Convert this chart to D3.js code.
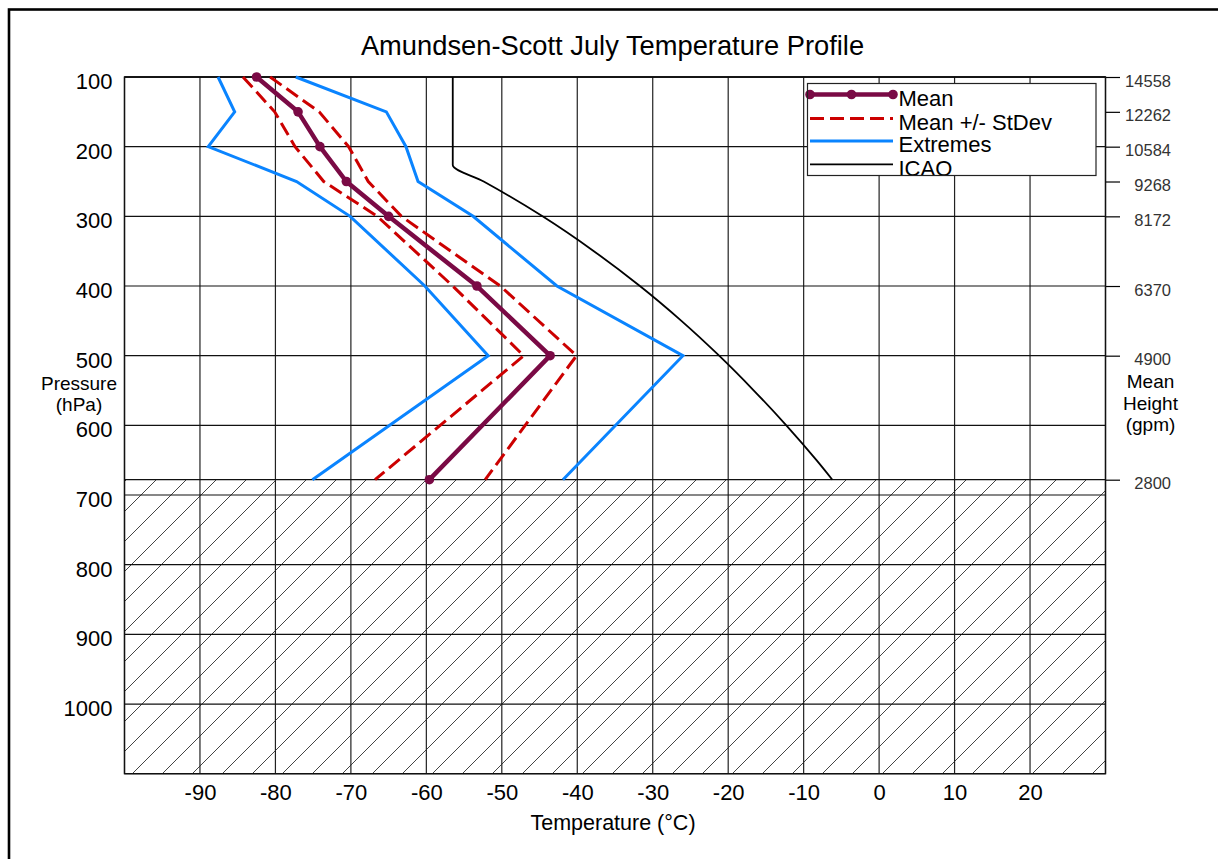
<!DOCTYPE html>
<html>
<head>
<meta charset="utf-8">
<script src="https://cdn.jsdelivr.net/npm/d3@7"></script>
<style>
  html, body { margin: 0; padding: 0; background: #fff; }
  svg { display: block; font-family: "Liberation Sans", Arial, sans-serif; }
</style>
</head>
<body>
<svg id="chart" width="1218" height="859"></svg>
<script>
// ---- data ----
const levels = [100, 150, 200, 250, 300, 400, 500, 678];
const meanT   = [-82.5, -77.0, -74.1, -70.6, -65.0, -53.3, -43.6, -59.6];
const meanLow = [-84.3, -80.1, -77.4, -73.6, -66.5, -56.5, -47.1, -66.8];
const meanHigh= [-80.7, -74.2, -70.3, -67.7, -63.3, -50.2, -40.1, -52.2];
const extMin  = [-87.6, -85.4, -88.9, -77.2, -70.1, -60.2, -51.8, -75.1];
const extMax  = [-77.3, -65.3, -62.7, -61.1, -53.8, -42.7, -26.0, -41.9];
const icaoP   = [100, 150, 200, 226.3, 250, 300, 350, 400, 450, 500, 550, 600, 650, 678];
const icaoT   = [-56.5, -56.5, -56.5, -56.5, -52.4, -44.6, -37.8, -31.7, -26.2, -21.2, -16.6, -12.3, -8.3, -6.2];
const surfaceP = 678;
const pressureTicks = [100, 200, 300, 400, 500, 600, 700, 800, 900, 1000];
const tempTicks = [-90, -80, -70, -60, -50, -40, -30, -20, -10, 0, 10, 20];
const tempGrid = [-100, -90, -80, -70, -60, -50, -40, -30, -20, -10, 0, 10, 20, 30];
const heightP = [100, 150, 200, 250, 300, 400, 500, 678];
const heightLabels = ["14558", "12262", "10584", "9268", "8172", "6370", "4900", "2800"];
const legendItems = ["Mean", "Mean +/- StDev", "Extremes", "ICAO"];

// ---- layout ----
const svg = d3.select("#chart");
const L = 124.5, R = 1105.5, T = 77, B = 773.7;
const x = d3.scaleLinear().domain([-100, 30]).range([L, R]);
const y = d3.scaleLinear().domain([100, 1100]).range([T, B]);

const COL_MEAN = "#7a0a45", COL_SD = "#cc0000", COL_EXT = "#0a84ff", COL_ICAO = "#000";
const FONT = "Liberation Sans, Arial, sans-serif";

// outer border
svg.append("rect").attr("x", 9).attr("y", 9.5).attr("width", 1400).attr("height", 1000)
  .attr("fill", "none").attr("stroke", "#000").attr("stroke-width", 2.6);

// hatch pattern
const defs = svg.append("defs");
const pat = defs.append("pattern").attr("id", "hatch").attr("patternUnits", "userSpaceOnUse")
  .attr("x", 6).attr("y", 0).attr("width", 30).attr("height", 30);
pat.append("path").attr("d", "M0,30 L30,0 M-3,3 L3,-3 M27,33 L33,27")
  .attr("stroke", "#444").attr("stroke-width", 1).attr("fill", "none");

// title
svg.append("text").attr("x", 612.5).attr("y", 55).attr("text-anchor", "middle")
  .attr("font-size", 27.3).attr("fill", "#000").text("Amundsen-Scott July Temperature Profile");

// hatched ground area
svg.append("rect").attr("x", L).attr("y", y(surfaceP)).attr("width", R - L).attr("height", B - y(surfaceP))
  .attr("fill", "url(#hatch)");

// grid
const grid = svg.append("g");
grid.selectAll("line.v").data(tempGrid).join("line")
  .attr("x1", d => x(d)).attr("x2", d => x(d)).attr("y1", T).attr("y2", B)
  .attr("stroke", "#222").attr("stroke-width", 1.2);
grid.selectAll("line.h").data(pressureTicks.concat([1100])).join("line")
  .attr("x1", L).attr("x2", R).attr("y1", d => y(d)).attr("y2", d => y(d))
  .attr("stroke", "#111").attr("stroke-width", 1.2);
grid.append("line").attr("x1", L).attr("x2", R).attr("y1", y(surfaceP)).attr("y2", y(surfaceP))
  .attr("stroke", "#111").attr("stroke-width", 1.2);
grid.append("line").attr("x1", L).attr("x2", R).attr("y1", T).attr("y2", T)
  .attr("stroke", "#000").attr("stroke-width", 1.4);

// axes
const leftAxis = svg.append("g").attr("transform", `translate(${L},0)`)
  .call(d3.axisLeft(y).tickValues(pressureTicks).tickSize(0).tickPadding(12).tickFormat(d => String(d)));
leftAxis.select(".domain").remove();
leftAxis.selectAll("text").attr("font-size", 22).attr("fill", "#000").attr("dy", "0.52em")
  .attr("font-family", FONT);

const bottomAxis = svg.append("g").attr("transform", `translate(0,${B})`)
  .call(d3.axisBottom(x).tickValues(tempTicks).tickSize(0).tickPadding(0).tickFormat(d => String(d)));
bottomAxis.select(".domain").remove();
bottomAxis.selectAll("text").attr("font-size", 22).attr("fill", "#000").attr("y", 26.5).attr("dy", "0")
  .attr("font-family", FONT);

const rightAxis = svg.append("g").attr("transform", `translate(${R},0)`)
  .call(d3.axisRight(y).tickValues(heightP).tickSize(14.5).tickFormat((d, i) => heightLabels[i]));
rightAxis.select(".domain").remove();
rightAxis.selectAll("line").attr("stroke", "#000").attr("stroke-width", 1.2);
rightAxis.selectAll("text").attr("font-size", 16.5).attr("fill", "#333").attr("text-anchor", "end")
  .attr("x", 65.5).attr("dy", "0.55em").attr("font-family", FONT);

// axis titles
const pl = svg.append("text").attr("text-anchor", "middle").attr("font-size", 19).attr("fill", "#000");
pl.append("tspan").attr("x", 79).attr("y", 389.5).text("Pressure");
pl.append("tspan").attr("x", 79).attr("y", 411).text("(hPa)");
const hl = svg.append("text").attr("text-anchor", "middle").attr("font-size", 19).attr("fill", "#000");
hl.append("tspan").attr("x", 1150.5).attr("y", 388).text("Mean");
hl.append("tspan").attr("x", 1150.5).attr("y", 409.5).text("Height");
hl.append("tspan").attr("x", 1150.5).attr("y", 431).text("(gpm)");
svg.append("text").attr("x", 613).attr("y", 830).attr("text-anchor", "middle")
  .attr("font-size", 21.5).attr("fill", "#000").text("Temperature (\u00B0C)");

// plot frame
svg.append("rect").attr("x", L).attr("y", T).attr("width", R - L).attr("height", B - T)
  .attr("fill", "none").attr("stroke", "#111").attr("stroke-width", 1.4);

// series
const line = d3.line().x(d => x(d[0])).y(d => y(d[1]));
const zip = (t, p) => t.map((v, i) => [v, p[i]]);

svg.append("path").datum(zip(icaoT, icaoP))
  .attr("d", line.curve(d3.curveMonotoneY)).attr("fill", "none")
  .attr("stroke", COL_ICAO).attr("stroke-width", 1.8);
line.curve(d3.curveLinear);

[extMin, extMax].forEach(s => {
  svg.append("path").datum(zip(s, levels)).attr("d", line).attr("fill", "none")
    .attr("stroke", COL_EXT).attr("stroke-width", 3);
});
[meanLow, meanHigh].forEach(s => {
  svg.append("path").datum(zip(s, levels)).attr("d", line).attr("fill", "none")
    .attr("stroke", COL_SD).attr("stroke-width", 3).attr("stroke-dasharray", "14,6");
});
svg.append("path").datum(zip(meanT, levels)).attr("d", line).attr("fill", "none")
  .attr("stroke", COL_MEAN).attr("stroke-width", 4.5).attr("stroke-linejoin", "round");
svg.selectAll("circle.m").data(zip(meanT, levels)).join("circle")
  .attr("cx", d => x(d[0])).attr("cy", d => y(d[1])).attr("r", 4.8).attr("fill", COL_MEAN);

// legend
const lg = svg.append("g");
const LX = 807.5, LY = 83.5, LW = 288.5, LH = 92;
defs.append("clipPath").attr("id", "legclip").append("rect")
  .attr("x", LX).attr("y", LY).attr("width", LW).attr("height", LH);
lg.append("rect").attr("x", LX).attr("y", LY).attr("width", LW).attr("height", LH)
  .attr("fill", "#fff").attr("stroke", "none");
const lgc = lg.append("g").attr("clip-path", "url(#legclip)");
const rowY = [94.5, 118.5, 141, 164.3];
const sx1 = 810, sx2 = 893;
lg.append("line").attr("x1", sx1).attr("x2", sx2).attr("y1", rowY[0]).attr("y2", rowY[0])
  .attr("stroke", COL_MEAN).attr("stroke-width", 4.5);
lg.selectAll("circle").data([sx1, (sx1 + sx2) / 2, sx2]).join("circle")
  .attr("cx", d => d).attr("cy", rowY[0]).attr("r", 4.8).attr("fill", COL_MEAN);
lg.append("line").attr("x1", sx1).attr("x2", sx2).attr("y1", rowY[1]).attr("y2", rowY[1])
  .attr("stroke", COL_SD).attr("stroke-width", 3).attr("stroke-dasharray", "14,6");
lg.append("line").attr("x1", sx1).attr("x2", sx2).attr("y1", rowY[2]).attr("y2", rowY[2])
  .attr("stroke", COL_EXT).attr("stroke-width", 3);
lg.append("line").attr("x1", sx1).attr("x2", sx2).attr("y1", rowY[3]).attr("y2", rowY[3])
  .attr("stroke", COL_ICAO).attr("stroke-width", 1.8);
lgc.selectAll("text").data(legendItems).join("text")
  .attr("x", 898.5).attr("y", (d, i) => rowY[i] + 11.2)
  .attr("font-size", 22).attr("fill", "#000").text(d => d);
lg.append("rect").attr("x", LX).attr("y", LY).attr("width", LW).attr("height", LH)
  .attr("fill", "none").attr("stroke", "#222").attr("stroke-width", 1.2);
</script>
</body>
</html>
